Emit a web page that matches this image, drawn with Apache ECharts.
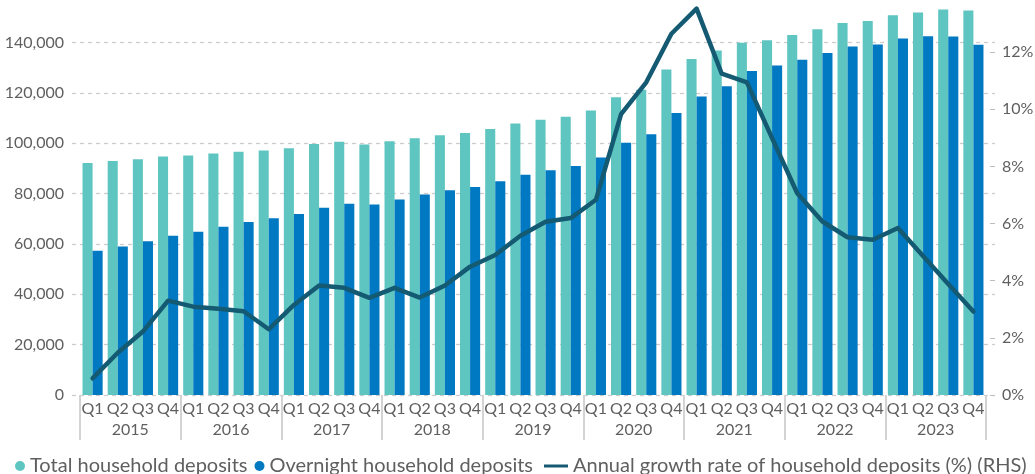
<!DOCTYPE html>
<html>
<head>
<meta charset="utf-8">
<script src="https://cdn.jsdelivr.net/npm/echarts@6/dist/echarts.min.js"></script>
<style>
html,body{margin:0;padding:0;background:#fff;}
#chart{width:1035px;height:474px;}
</style>
</head>
<body>
<div id="chart"></div>
<script>
var years = ['2015','2016','2017','2018','2019','2020','2021','2022','2023'];
var quarters = ['Q1','Q2','Q3','Q4'];
var totalDeposits = [92100, 92900, 93600, 94700, 95100, 95900, 96600, 97100, 98000, 99700, 100500, 99500,
  100700, 101900, 103100, 104000, 105600, 107800, 109300, 110500, 113000, 118200, 121200, 129200,
  133400, 136800, 139900, 140800, 142900, 145200, 147700, 148500, 150800, 151900, 153100, 152700];
var overnightDeposits = [57300, 59000, 61000, 63200, 64800, 66800, 68700, 70200, 71900, 74300, 75900, 75600,
  77600, 79600, 81300, 82600, 84900, 87400, 89200, 90900, 94300, 100100, 103500, 112000,
  118500, 122600, 128600, 130800, 133100, 135800, 138400, 139200, 141500, 142400, 142300, 139100];
var growthRate = [0.58, 1.48, 2.22, 3.30, 3.09, 3.02, 2.93, 2.30, 3.15, 3.83, 3.75, 3.40,
  3.75, 3.41, 3.83, 4.49, 4.90, 5.57, 6.06, 6.19, 6.83, 9.83, 10.94, 12.64,
  13.52, 11.24, 10.94, 8.99, 7.06, 6.07, 5.52, 5.43, 5.84, 4.86, 3.88, 2.92];
var seriesNames = ['Total household deposits', 'Overnight household deposits', 'Annual growth rate of household deposits (%) (RHS)'];

var quarterLabels = [];
years.forEach(function(y){ quarters.forEach(function(q){ quarterLabels.push(q); }); });

var FONT = 'Lato';
var TXT = '#5f5f5f';
var AXFS = 16;

var chart = echarts.init(document.getElementById('chart'));
chart.setOption({
  animation: false,
  backgroundColor: '#fff',
  textStyle: {fontFamily: FONT},
  grid: [
    {left: 72, right: 40, top: -8, bottom: 79, outerBoundsMode: 'none', containLabel: false},
    {left: 80, right: 49, top: -8, bottom: 79, outerBoundsMode: 'none', containLabel: false}
  ],
  legend: [
    {
      left: 10, top: 451, itemWidth: 10, itemHeight: 10, itemGap: 7, icon: 'circle',
      textStyle: {fontFamily: FONT, fontSize: 20, color: TXT},
      data: [seriesNames[0], seriesNames[1]]
    },
    {
      left: 539, top: 451, itemWidth: 24, itemHeight: 3, itemGap: 8,
      textStyle: {fontFamily: FONT, fontSize: 20, color: TXT},
      data: [{name: seriesNames[2], icon: 'rect'}]
    }
  ],
  xAxis: [
    {gridIndex: 0, type: 'value', show: false, min: 0, max: 1},
    {
      gridIndex: 1, type: 'category', data: quarterLabels, position: 'bottom', offset: 0,
      boundaryGap: true,
      axisLine: {show: false}, axisTick: {show: false}, splitLine: {show: false},
      axisLabel: {interval: 0, margin: 6, fontFamily: FONT, fontSize: AXFS, color: TXT}
    },
    {
      gridIndex: 1, type: 'category', data: years, position: 'bottom', offset: 0,
      boundaryGap: true,
      axisLine: {show: false},
      axisTick: {show: true, length: 45, lineStyle: {color: '#d3d3d3', width: 2}},
      splitLine: {show: false},
      axisLabel: {interval: 0, margin: 27, fontFamily: FONT, fontSize: AXFS, color: TXT}
    }
  ],
  yAxis: [
    {
      gridIndex: 0, type: 'value', position: 'left', min: 0, max: 160000, interval: 20000,
      axisLine: {show: false}, axisTick: {show: false},
      splitLine: {show: true, lineStyle: {color: '#cccccc', width: 1.3, type: [4, 4]}},
      axisLabel: {
        margin: 8, fontFamily: FONT, fontSize: AXFS, color: TXT,
        formatter: function(v){ return v >= 160000 ? '' : v.toLocaleString('en-US'); }
      }
    },
    {
      gridIndex: 0, type: 'value', position: 'right', min: 0, max: 14.1, interval: 2,
      axisLine: {show: false},
      axisTick: {show: true, inside: true, length: 5, lineStyle: {color: '#bdbdbd'}},
      splitLine: {show: false},
      axisLabel: {
        margin: 7, fontFamily: FONT, fontSize: AXFS, color: TXT,
        formatter: function(v){ return v > 13 ? '' : v + '%'; }
      }
    },
    {gridIndex: 1, type: 'value', show: false, min: 0, max: 160000, splitLine: {show: false}},
    {gridIndex: 1, type: 'value', show: false, min: 0, max: 14.1, splitLine: {show: false}}
  ],
  series: [
    {
      name: seriesNames[0], type: 'bar', xAxisIndex: 1, yAxisIndex: 2,
      data: totalDeposits, barGap: '0%', barCategoryGap: '20%',
      itemStyle: {color: '#5ec5c1'}
    },
    {
      name: seriesNames[1], type: 'bar', xAxisIndex: 1, yAxisIndex: 2,
      data: overnightDeposits, barGap: '0%', barCategoryGap: '20%',
      itemStyle: {color: '#0079c2'}
    },
    {
      name: seriesNames[2], type: 'line', xAxisIndex: 1, yAxisIndex: 3,
      data: growthRate, symbol: 'none', showSymbol: false,
      lineStyle: {color: '#145a72', width: 4.5, join: 'round', cap: 'round'},
      itemStyle: {color: '#145a72'}
    }
  ]
});
</script>
</body>
</html>
